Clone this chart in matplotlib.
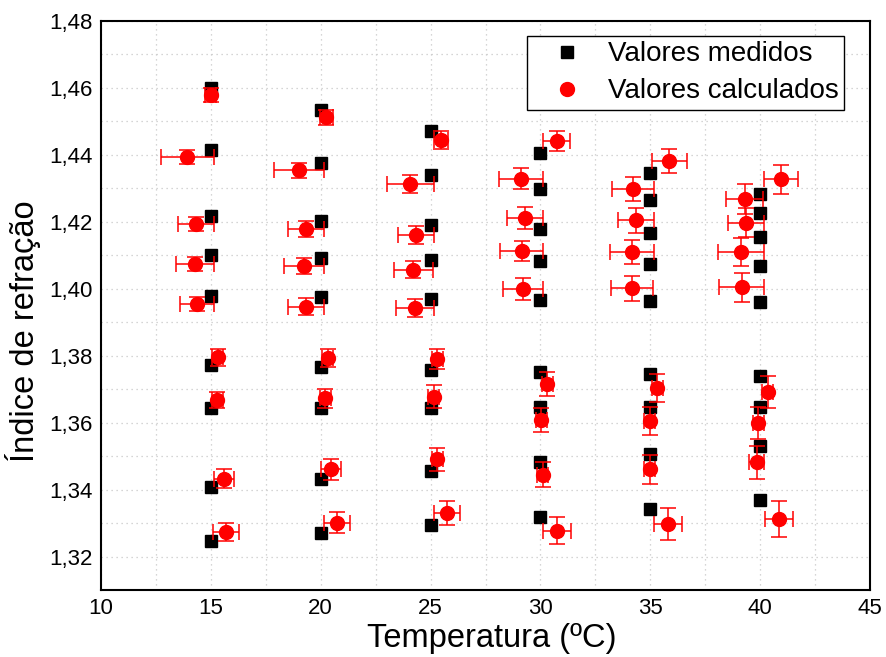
import matplotlib
matplotlib.use("Agg")
import matplotlib.pyplot as plt
import numpy as np
from matplotlib.lines import Line2D
from matplotlib.ticker import MultipleLocator, FuncFormatter

plt.rcParams['font.family'] = ['Liberation Sans', 'DejaVu Sans']

# Measured refractive index (nine samples at each nominal temperature)
temp_nominal = [15, 20, 25, 30, 35, 40]
n_medido = [
    [1.4600, 1.4414, 1.4217, 1.4100, 1.3978, 1.3771, 1.3643, 1.3409, 1.3245],
    [1.4535, 1.4377, 1.4203, 1.4091, 1.3974, 1.3765, 1.3643, 1.3431, 1.3269],
    [1.4472, 1.4340, 1.4191, 1.4086, 1.3970, 1.3757, 1.3645, 1.3456, 1.3294],
    [1.4406, 1.4298, 1.4178, 1.4082, 1.3967, 1.3750, 1.3646, 1.3482, 1.3318],
    [1.4346, 1.4264, 1.4166, 1.4074, 1.3964, 1.3745, 1.3647, 1.3505, 1.3343],
    [1.4283, 1.4226, 1.4154, 1.4069, 1.3960, 1.3738, 1.3648, 1.3531, 1.3368],
]

# Calculated values: temperature, index and their uncertainties
t_calc = [
    [15.00, 13.93, 14.33, 14.28, 14.36, 15.31, 15.28, 15.60, 15.69],
    [20.25, 19.02, 19.32, 19.25, 19.32, 20.31, 20.20, 20.45, 20.74],
    [25.49, 24.08, 24.34, 24.22, 24.28, 25.31, 25.14, 25.30, 25.75],
    [30.73, 29.13, 29.31, 29.14, 29.20, 30.31, 30.04, 30.11, 30.75],
    [35.86, 34.21, 34.35, 34.15, 34.18, 35.32, 34.98, 34.98, 35.81],
    [40.95, 39.29, 39.35, 39.12, 39.15, 40.34, 39.91, 39.84, 40.84],
]
n_calc = [
    [1.4578, 1.4394, 1.4194, 1.4075, 1.3954, 1.3795, 1.3669, 1.3433, 1.3274],
    [1.4512, 1.4354, 1.4178, 1.4068, 1.3947, 1.3793, 1.3673, 1.3460, 1.3301],
    [1.4444, 1.4313, 1.4161, 1.4057, 1.3942, 1.3790, 1.3678, 1.3490, 1.3329],
    [1.4442, 1.4329, 1.4211, 1.4113, 1.4000, 1.3716, 1.3608, 1.3444, 1.3277],
    [1.4383, 1.4299, 1.4204, 1.4111, 1.4001, 1.3703, 1.3606, 1.3461, 1.3296],
    [1.4327, 1.4268, 1.4198, 1.4111, 1.4004, 1.3691, 1.3600, 1.3481, 1.3313],
]
t_err = [
    [0.25, 1.20, 0.82, 0.87, 0.78, 0.25, 0.25, 0.46, 0.58],
    [0.30, 1.14, 0.83, 0.90, 0.82, 0.25, 0.25, 0.45, 0.60],
    [0.32, 1.06, 0.81, 0.90, 0.86, 0.25, 0.25, 0.25, 0.60],
    [0.60, 1.00, 0.82, 0.96, 0.91, 0.25, 0.25, 0.25, 0.62],
    [0.80, 0.96, 0.82, 1.00, 0.96, 0.25, 0.25, 0.25, 0.64],
    [0.76, 0.86, 0.82, 1.05, 1.02, 0.25, 0.25, 0.33, 0.64],
]
n_err = [
    [0.0021, 0.0021, 0.0021, 0.0021, 0.0021, 0.0025, 0.0024, 0.0027, 0.0027],
    [0.0022, 0.0023, 0.0023, 0.0024, 0.0024, 0.0027, 0.0028, 0.0030, 0.0031],
    [0.0026, 0.0026, 0.0026, 0.0026, 0.0026, 0.0031, 0.0033, 0.0033, 0.0036],
    [0.0030, 0.0031, 0.0033, 0.0031, 0.0033, 0.0036, 0.0036, 0.0037, 0.0040],
    [0.0036, 0.0036, 0.0036, 0.0036, 0.0037, 0.0042, 0.0042, 0.0043, 0.0048],
    [0.0044, 0.0044, 0.0042, 0.0042, 0.0044, 0.0048, 0.0048, 0.0050, 0.0054],
]

fig = plt.figure(figsize=(8.86, 6.57), dpi=100)
ax = fig.add_axes([0.114, 0.102, 0.868, 0.866])

# measured values (black squares)
x_med = np.repeat(temp_nominal, [len(r) for r in n_medido])
y_med = np.concatenate(n_medido)
ax.plot(x_med, y_med, linestyle='none', marker='s', markersize=9,
        color='black', zorder=3)

# calculated values with error bars (red circles)
ax.errorbar(np.concatenate(t_calc), np.concatenate(n_calc),
            xerr=np.concatenate(t_err), yerr=np.concatenate(n_err),
            fmt='o', markersize=10, color='red', ecolor='red',
            elinewidth=1.1, capsize=5.5, capthick=1.1, zorder=4)

ax.set_xlim(10, 45)
ax.set_ylim(1.31, 1.48)
ax.xaxis.set_major_locator(MultipleLocator(5))
ax.xaxis.set_minor_locator(MultipleLocator(2.5))
ax.yaxis.set_major_locator(MultipleLocator(0.02))
ax.yaxis.set_minor_locator(MultipleLocator(0.01))
ax.yaxis.set_major_formatter(FuncFormatter(lambda v, p: f"{v:.2f}".replace('.', ',')))
ax.xaxis.set_major_formatter(FuncFormatter(lambda v, p: f"{v:.0f}"))

ax.grid(True, which='both', linestyle=(0, (1, 3)), color='#c8c8c8', linewidth=0.9)
ax.set_axisbelow(True)
ax.tick_params(which='both', length=0, labelsize=16, pad=6)

for s in ax.spines.values():
    s.set_linewidth(1.5)
    s.set_color('black')

ax.set_xlabel('Temperatura (ºC)', fontsize=23.5)
ax.set_ylabel('Índice de refração', fontsize=23.5)
ax.xaxis.set_label_coords(0.508, -0.058)
ax.yaxis.set_label_coords(-0.078, 0.455)

handles = [
    Line2D([], [], linestyle='none', marker='s', markersize=9, color='black'),
    Line2D([], [], linestyle='none', marker='o', markersize=10, color='red'),
]
leg = ax.legend(handles, ['Valores medidos', 'Valores calculados'],
                loc='upper right', bbox_to_anchor=(0.966, 0.974), fontsize=20,
                frameon=True, fancybox=False, edgecolor='black', framealpha=1,
                handletextpad=0.2, borderpad=0.2, labelspacing=0.4,
                handlelength=2.5, borderaxespad=0)
leg.get_frame().set_linewidth(1.0)

fig.savefig('out.png', dpi=100)
